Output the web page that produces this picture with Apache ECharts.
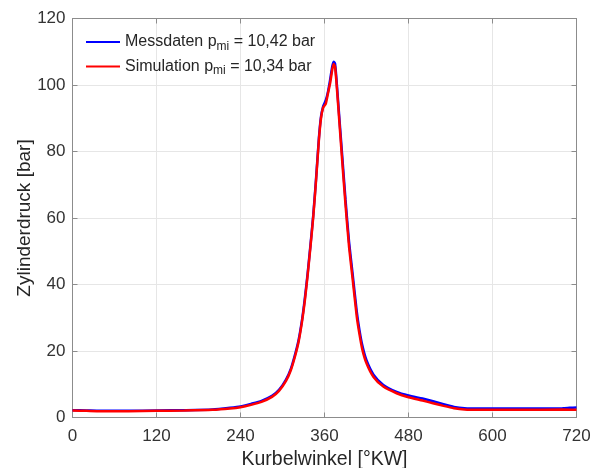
<!DOCTYPE html>
<html><head><meta charset="utf-8">
<script src="https://cdn.jsdelivr.net/npm/echarts@6/dist/echarts.min.js"></script>
<style>html,body{margin:0;padding:0;background:#fff}#c{width:593px;height:468px}</style>
</head><body><div id="c"></div>
<script>
const xTicks = [0, 120, 240, 360, 480, 600, 720];
const yTicks = [0, 20, 40, 60, 80, 100, 120];
const messAngle = [0,20,40,80,120,160,200,225,240,255,270,285,295,305,312,318,323,328,332,336,340,344,348,352,355,358,360,362,365,368,371,373,375,377,380,385,390,395,400,406,410,414,420,430,444,463,480,500,515,530,545,560,580,640,700,710,720];
const messDruck = [2.2,2.1,2.0,2.0,2.1,2.2,2.4,2.9,3.3,4.1,5.0,6.5,8.3,11.4,14.7,19,23.3,29.5,36,43.5,52,61,72,84,90.5,93.5,94.5,95.5,98,101.5,105.5,107,106.5,102,93.5,79.5,65.5,53,43.5,32,26.2,21.7,17.2,12.9,9.8,7.7,6.6,5.7,4.9,4.0,3.2,2.8,2.7,2.7,2.8,2.9,3.0];
const simAngle = [0,20,40,80,120,160,200,225,240,255,270,285,295,305,312,318,323,328,332,336,340,344,348,352,355,358,360,362,365,368,371,373,375,377,380,385,390,395,400,406,410,414,420,430,444,463,480,500,515,530,545,560,580,640,700,720];
const simDruck = [2.1,2.0,1.9,1.9,2.0,2.1,2.3,2.7,3.1,3.8,4.7,6.2,8.0,11.0,14.3,18.5,22.8,29,35.3,43,51.5,60.5,71.5,83.5,90,93.2,93.8,94.5,97.5,100.5,104.5,106.3,105.5,101,92.5,78,64,51.5,42,30.5,25,20.5,16.3,12.2,9.3,7.3,6.1,5.1,4.3,3.5,2.8,2.4,2.3,2.3,2.4,2.3];
const seriesNames = ['Messdaten p{sub|mi} = 10,42 bar', 'Simulation p{sub|mi} = 10,34 bar'];

const font = 'Liberation Sans, Arial, Helvetica, sans-serif';
const txt = '#262626';
const axisCol = '#8c8c8c';
const chart = echarts.init(document.getElementById('c'), null, {renderer: 'canvas'});
chart.setOption({
  animation: false,
  backgroundColor: '#fff',
  grid: {left: 72.5, right: 16.5, top: 18.5, bottom: 50.5, show: false, containLabel: false, outerBoundsMode: 'none'},
  legend: {
    left: 81, top: 29, orient: 'vertical', itemGap: 6,
    itemWidth: 34, itemHeight: 2,
    icon: 'rect',
    textStyle: {fontFamily: font, fontSize: 16, color: txt,
      rich: {sub: {fontFamily: font, fontSize: 12, color: txt, verticalAlign: 'bottom', padding: [9, 0, 0, 0]}}},
    data: seriesNames
  },
  xAxis: [{
    type: 'value', min: 0, max: 720, interval: 120,
    name: 'Kurbelwinkel [°KW]', nameLocation: 'middle', nameGap: 32, nameMoveOverlap: false,
    nameTextStyle: {fontFamily: font, fontSize: 19.5, color: txt},
    axisLine: {show: true, onZero: false, lineStyle: {color: axisCol, width: 1}},
    axisTick: {show: true, inside: true, length: 5, lineStyle: {color: axisCol}},
    axisLabel: {fontFamily: font, fontSize: 17, color: '#333', margin: 10},
    splitLine: {show: true, lineStyle: {color: '#e6e6e6', width: 1}}
  }, {
    type: 'value', min: 0, max: 720, interval: 120, position: 'top',
    axisLine: {show: true, onZero: false, lineStyle: {color: axisCol}},
    axisTick: {show: true, inside: true, length: 5, lineStyle: {color: axisCol}},
    axisLabel: {show: false}, splitLine: {show: false}
  }],
  yAxis: [{
    type: 'value', min: 0, max: 120, interval: 20,
    name: 'Zylinderdruck [bar]', nameLocation: 'middle', nameGap: 38, nameMoveOverlap: false,
    nameTextStyle: {fontFamily: font, fontSize: 19, color: txt},
    axisLine: {show: true, onZero: false, lineStyle: {color: axisCol}},
    axisTick: {show: true, inside: true, length: 5, lineStyle: {color: axisCol}},
    axisLabel: {fontFamily: font, fontSize: 17, color: '#333', margin: 7},
    splitLine: {show: true, lineStyle: {color: '#e6e6e6', width: 1}}
  }, {
    type: 'value', min: 0, max: 120, interval: 20, position: 'right',
    axisLine: {show: true, onZero: false, lineStyle: {color: axisCol}},
    axisTick: {show: true, inside: true, length: 5, lineStyle: {color: axisCol}},
    axisLabel: {show: false}, splitLine: {show: false}
  }],
  series: [{
    name: seriesNames[0], type: 'line', showSymbol: false, symbol: 'none', smooth: 0.2,
    lineStyle: {color: '#0000ff', width: 2.5}, itemStyle: {color: '#0000ff'},
    data: messAngle.map((a, i) => [a, messDruck[i]])
  }, {
    name: seriesNames[1], type: 'line', showSymbol: false, symbol: 'none', smooth: 0.2,
    lineStyle: {color: '#ff0000', width: 2.5}, itemStyle: {color: '#ff0000'},
    data: simAngle.map((a, i) => [a, simDruck[i]])
  }]
});
</script></body></html>
